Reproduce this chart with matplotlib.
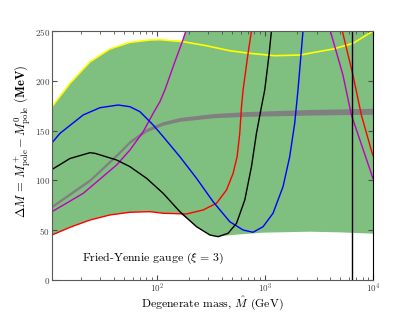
#!/usr/bin/env python3

import matplotlib
matplotlib.use('Agg')
import matplotlib.pyplot as plt
import numpy as np

plt.rcParams['font.family'] = 'serif'
plt.rcParams['font.serif'] = ['cmr10']
plt.rcParams['mathtext.fontset'] = 'cm'
plt.rcParams['axes.unicode_minus'] = False
plt.rcParams['axes.formatter.use_mathtext'] = True

# values (mass in GeV, splitting in MeV)
yel_x = [10.7, 15.7, 24.0, 36.8, 56.3, 86.2, 106.6, 175, 288, 473, 724, 1233, 2100, 4260, 6520, 10000]
yel_y = [174, 197.5, 219, 232, 238.6, 241, 241.3, 239.3, 235.2, 230.2, 227.6, 225.2, 225.9, 231.9, 237.6, 250]

blue_x = [10.7, 12.7, 20.8, 29.7, 43.9, 56.3, 69.7, 80.3, 92.4, 114.4, 163.2, 232.8, 331.4, 472.8,
          627.6, 776.2, 960.3, 1188, 1470, 1695, 1885, 2022, 2250]
blue_y = [137.8, 147.3, 165.7, 173, 175.7, 174, 169, 162.3, 155.6, 143.9, 123.8, 102.1, 78.6, 58.5,
          50.2, 47.9, 53.5, 67, 93.7, 123.8, 157.3, 190.8, 250]

black_x = [10.7, 15.7, 24.0, 26.7, 42.4, 56.3, 80.3, 114.4, 163.2, 232.8, 309, 368.6, 456, 545.4,
           650.6, 750.4, 834.4, 928.4, 995.8, 1091, 1148]
black_y = [111, 122, 127.8, 127.2, 120.5, 113.8, 102.1, 87, 68.6, 53.5, 45.2, 43.5, 46.9, 56.9,
           80.3, 113.8, 147.3, 174, 190.8, 226, 250]
black_pole = 6380

red_x = [10.7, 15.7, 24.0, 36.8, 56.3, 86.2, 114.4, 188.2, 267.9, 356.2, 440.8, 507.3, 552.4,
         584.8, 606.6, 627.6, 698, 750.4]
red_y = [45.2, 52.9, 60.2, 65.3, 68, 68.6, 67, 66.3, 70.3, 77, 90.4, 107, 123.8,
         147.3, 174, 190.8, 227.6, 250]
red2_x = [5200, 6520, 7800, 9840, 10000]
red2_y = [250, 205.8, 165.7, 127, 125]

mag_x = [10.7, 20.8, 42.4, 56.3, 74.7, 92.4, 106.6, 118.6, 146.6, 172.8, 185.4]
mag_y = [68.6, 87, 115.5, 130.5, 148.9, 167.4, 179, 190.8, 219, 240, 250]
mag2_x = [4030, 5270, 6310, 9640, 10000]
mag2_y = [250, 205.8, 165.7, 107, 102]

gray_x = [10.7, 24, 42.4, 56.3, 80.3, 114.4, 163.2, 331.4, 674.5, 2594, 10000]
gray_y = [74, 100.4, 125.5, 138.9, 150.6, 157.3, 161.3, 165, 166.7, 168.4, 169.4]
gray_err = [1.4, 1.5, 1.6, 1.6, 1.7, 1.8, 1.9, 2.1, 2.4, 2.8, 3.0]

# allowed region (green)
band_x = [10.7, 15.7, 24.0, 36.8, 56.3, 86.2, 106.6, 172.8, 185.4, 200, 10000]
band_hi = [174, 197.5, 219, 232, 238.6, 241, 241.3, 240, 250, 300, 300]
band_lo_x = [10.7, 15.7, 24.0, 36.8, 56.3, 86.2, 114.4, 163.2, 232.8, 309, 368.6, 472.8, 960,
             2594, 5000, 10000]
band_lo = [45.2, 52.9, 60.2, 65.3, 68, 68.6, 67, 67, 53.5, 45.2, 43.5, 45, 47.5,
           48.5, 47.8, 46.5]

fig = plt.figure(figsize=(4.15, 3.12), dpi=100)
ax = fig.add_axes([0.1253, 0.1026, 0.7735, 0.798])

# green region: polygon from upper and lower edges
px = list(band_x) + list(band_lo_x[::-1])
py = list(band_hi) + list(band_lo[::-1])
ax.fill(px, py, color='g', alpha=0.5, lw=0)

ax.plot(yel_x, yel_y, color='yellow', lw=1.2)
gm = np.array(gray_y)
ge = np.array(gray_err)
ax.fill_between(gray_x, gm - ge, gm + ge, color='gray', lw=0)

ax.plot(red_x, red_y, color='r', lw=1)
ax.plot(red2_x, red2_y, color='r', lw=1)
ax.plot(mag_x, mag_y, color='m', lw=1)
ax.plot(mag2_x, mag2_y, color='m', lw=1)
ax.plot(blue_x, blue_y, color='b', lw=1)
ax.plot(black_x, black_y, color='k', lw=1)
ax.axvline(black_pole, color='k', lw=1)

ax.set_xscale('log')
ax.set_xlim(10.7, 10000)
ax.set_ylim(0, 250)
ax.set_yticks([0, 50, 100, 150, 200, 250])
ax.tick_params(which='both', direction='in', top=True, right=True,
               labelsize=6.5, labelcolor='0.25', color='0.3', pad=1.5)
ax.tick_params(which='major', length=3.5)
ax.tick_params(which='minor', length=2)
for s in ['left', 'bottom', 'top']:
    ax.spines[s].set_color('0.35')
ax.spines['right'].set_color('k')

ax.set_xlabel(r'Degenerate mass, $\hat{M}$ (GeV)', fontsize=8.5, va='center')
ax.xaxis.set_label_coords(0.5, -0.095)
ax.set_ylabel(r'$\Delta M\,=\,M^+_{\rm pole}-M^0_{\rm pole}$ $\mathbf{(MeV)}$', fontsize=9, va='center')
ax.yaxis.set_label_coords(-0.093, 0.556)
ax.text(20.3, 22, r'Fried-Yennie gauge ($\xi\,=\,3$)', fontsize=8.5, va='center', ha='left')

plt.savefig('out.png', dpi=100)
